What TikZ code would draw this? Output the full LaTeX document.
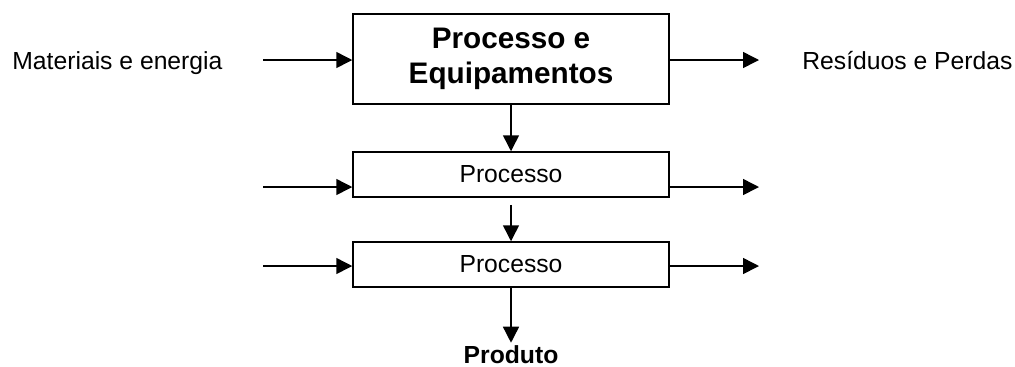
\documentclass[tikz,border=0pt]{standalone}
\usepackage{fontspec}
\setmainfont{Liberation Sans}
\usetikzlibrary{arrows.meta}
\tikzset{
  procbox/.style={draw, line width=0.75pt, minimum width=158pt, inner sep=0pt},
  flow/.style={line width=0.75pt, -{Triangle[length=8pt,width=8pt]}},
  txt/.style={inner sep=0pt, font=\fontsize{12.35}{14.8}\selectfont}
}
\begin{document}
\begin{tikzpicture}[x=0.5pt,y=-0.5pt]
      \useasboundingbox (0,0) rectangle (1015,366);
      \node[procbox, minimum height=45pt, align=center, font=\fontsize{14.85}{17.5}\selectfont\bfseries] (equip) at (511,59) {Processo e\\Equipamentos};
      \node[procbox, txt, minimum height=22.5pt] (proc1) at (511,174.5) {Processo};
      \node[procbox, txt, minimum height=22.5pt] (proc2) at (511,264.5) {Processo};
      \node[txt, anchor=base west] (mat) at (12,69) {Materiais e energia};
      \node[txt, anchor=base west] (res) at (802,69) {Resíduos e Perdas};
      \node[txt, anchor=base, font=\fontsize{12.35}{14.8}\selectfont\bfseries] (prod) at (511,363) {Produto};
      \coordinate (in0) at (263,60);
      \coordinate (out0) at (759,60);
      \coordinate (in1) at (263,187);
      \coordinate (out1) at (759,187);
      \coordinate (in2) at (263,266);
      \coordinate (out2) at (759,266);
      \draw[flow] (in0) -- (in0 -| equip.west);
      \draw[flow] (equip.east |- out0) -- (out0);
      \draw[flow] (in1) -- (in1 -| proc1.west);
      \draw[flow] (proc1.east |- out1) -- (out1);
      \draw[flow] (in2) -- (in2 -| proc2.west);
      \draw[flow] (proc2.east |- out2) -- (out2);
      \draw[flow] (equip.south) -- (proc1.north);
      \draw[flow, shorten <=3.5pt] (proc1.south) -- (proc2.north);
      \draw[flow, shorten >=1pt] (proc2.south) -- (prod.north);
\end{tikzpicture}
\end{document}
